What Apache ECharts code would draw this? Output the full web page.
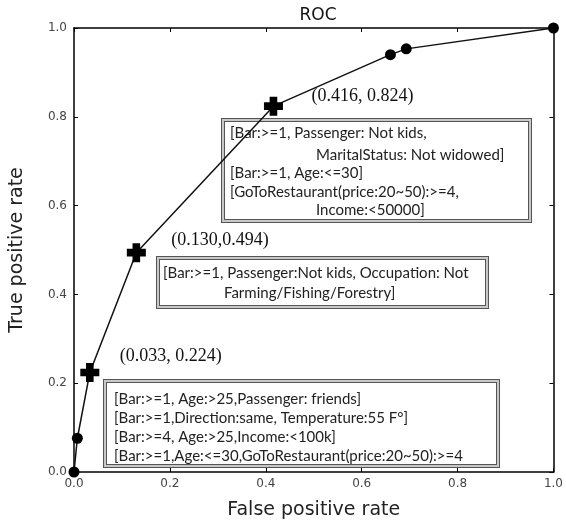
<!DOCTYPE html>
<html>
<head>
<meta charset="utf-8">
<script src="https://cdn.jsdelivr.net/npm/echarts@6/dist/echarts.min.js"></script>
<style>
  html, body { margin: 0; padding: 0; background: #fff; }
  #chart { width: 566px; height: 525px; }
</style>
</head>
<body>
<div id="chart"></div>
<script>
// ROC curve points (false positive rate, true positive rate)
const fpr = [0, 0.007, 0.033, 0.130, 0.416, 0.660, 0.693, 1];
const tpr = [0, 0.076, 0.224, 0.494, 0.824, 0.940, 0.953, 1];
// 'plus' marks the highlighted rule-set operating points
const markerKind = ['circle', 'circle', 'plus', 'plus', 'plus', 'circle', 'circle', 'circle'];
const pointLabels = ['', '', '(0.033, 0.224)', '(0.130,0.494)', '(0.416, 0.824)', '', '', ''];
const xTicks = [0, 0.2, 0.4, 0.6, 0.8, 1.0];
const yTicks = [0, 0.2, 0.4, 0.6, 0.8, 1.0];

// Rule lists shown next to each highlighted point
const rulesHigh = [
  '[Bar:>=1, Passenger: Not kids,',
  'MaritalStatus: Not widowed]',
  '[Bar:>=1, Age:<=30]',
  '[GoToRestaurant(price:20~50):>=4,',
  'Income:<50000]'
];
const rulesMid = [
  '[Bar:>=1, Passenger:Not kids, Occupation: Not',
  'Farming/Fishing/Forestry]'
];
const rulesLow = [
  '[Bar:>=1, Age:>25,Passenger: friends]',
  '[Bar:>=1,Direction:same, Temperature:55 F\u00b0]',
  '[Bar:>=4, Age:>25,Income:<100k]',
  '[Bar:>=1,Age:<=30,GoToRestaurant(price:20~50):>=4'
];

const PLUS = 'path://M3,0H7V3H10V7H7V10H3V7H0V3H3Z';
const labelOffsets = {2: [30, -16], 3: [35, -12], 4: [38, -10]};

const seriesData = fpr.map((x, i) => {
  const isPlus = markerKind[i] === 'plus';
  const item = {
    value: [x, tpr[i]],
    symbol: isPlus ? PLUS : 'circle',
    symbolSize: isPlus ? 19 : 11
  };
  if (pointLabels[i]) {
    item.label = {
      show: true,
      formatter: pointLabels[i],
      position: 'inside',
      align: 'left',
      offset: labelOffsets[i],
      fontFamily: 'Liberation Serif',
      fontSize: 18,
      color: '#111'
    };
  }
  return item;
});

// Framed annotation box built from graphic primitives
function ruleBox(x, y, w, h, lines) {
  const children = [
    { type: 'rect', shape: { x: 0, y: 0, width: w, height: h },
      style: { fill: '#fff', stroke: '#555', lineWidth: 4 } },
    { type: 'rect', shape: { x: 0, y: 0, width: w, height: h },
      style: { fill: 'none', stroke: '#c8c8c8', lineWidth: 2 } }
  ];
  lines.forEach(l => {
    children.push({
      type: 'text', x: l.x, y: l.y,
      style: { text: l.t, font: '15px Lato', fill: '#222', textVerticalAlign: 'middle' }
    });
  });
  return { type: 'group', x: x, y: y, children: children };
}

const chart = echarts.init(document.getElementById('chart'), null, { renderer: 'canvas' });

const axisFont = 'DejaVu Sans';
const baseAxis = {
  type: 'value', min: 0, max: 1, interval: 0.2,
  axisLine: { show: true, onZero: false, lineStyle: { color: '#000', width: 1.5 } },
  axisTick: { show: true, inside: true, length: 4, lineStyle: { color: '#000' } },
  splitLine: { show: false }
};

chart.setOption({
  animation: false,
  backgroundColor: '#fff',
  title: {
    text: 'ROC', left: 313, top: 2, textAlign: 'center',
    textStyle: { fontFamily: axisFont, fontSize: 17, fontWeight: 'normal', color: '#111' }
  },
  grid: { left: 70, top: 28, width: 486, height: 448 },
  xAxis: [
    Object.assign({}, baseAxis, {
      position: 'bottom',
      name: 'False positive rate', nameLocation: 'middle', nameGap: 29,
      nameTextStyle: { fontFamily: axisFont, fontSize: 19, color: '#222' },
      axisLabel: { formatter: v => v.toFixed(1), margin: 6,
        fontFamily: axisFont, fontSize: 12, color: '#444' }
    }),
    Object.assign({}, baseAxis, { position: 'top', axisLabel: { show: false } })
  ],
  yAxis: [
    Object.assign({}, baseAxis, {
      position: 'left',
      name: 'True positive rate', nameLocation: 'middle', nameGap: 47,
      nameTextStyle: { fontFamily: axisFont, fontSize: 19, color: '#222' },
      axisLabel: { formatter: v => v.toFixed(1), margin: 7,
        fontFamily: axisFont, fontSize: 12, color: '#444' }
    }),
    Object.assign({}, baseAxis, { position: 'right', axisLabel: { show: false } })
  ],
  series: [{
    type: 'line',
    data: seriesData,
    showAllSymbol: true,
    lineStyle: { color: '#111', width: 1.5 },
    itemStyle: { color: '#000' },
    z: 3
  }],
  graphic: [
    ruleBox(223, 120, 307, 101, [
      { t: rulesHigh[0], x: 7, y: 13 },
      { t: rulesHigh[1], x: 93, y: 35 },
      { t: rulesHigh[2], x: 7, y: 53 },
      { t: rulesHigh[3], x: 7, y: 72 },
      { t: rulesHigh[4], x: 93, y: 90 }
    ]),
    ruleBox(158, 258, 329, 49, [
      { t: rulesMid[0], x: 5, y: 15 },
      { t: rulesMid[1], x: 66, y: 35 }
    ]),
    ruleBox(105, 381, 393, 85, [
      { t: rulesLow[0], x: 9, y: 18 },
      { t: rulesLow[1], x: 9, y: 37 },
      { t: rulesLow[2], x: 9, y: 56 },
      { t: rulesLow[3], x: 9, y: 75 }
    ])
  ]
});
</script>
</body>
</html>
